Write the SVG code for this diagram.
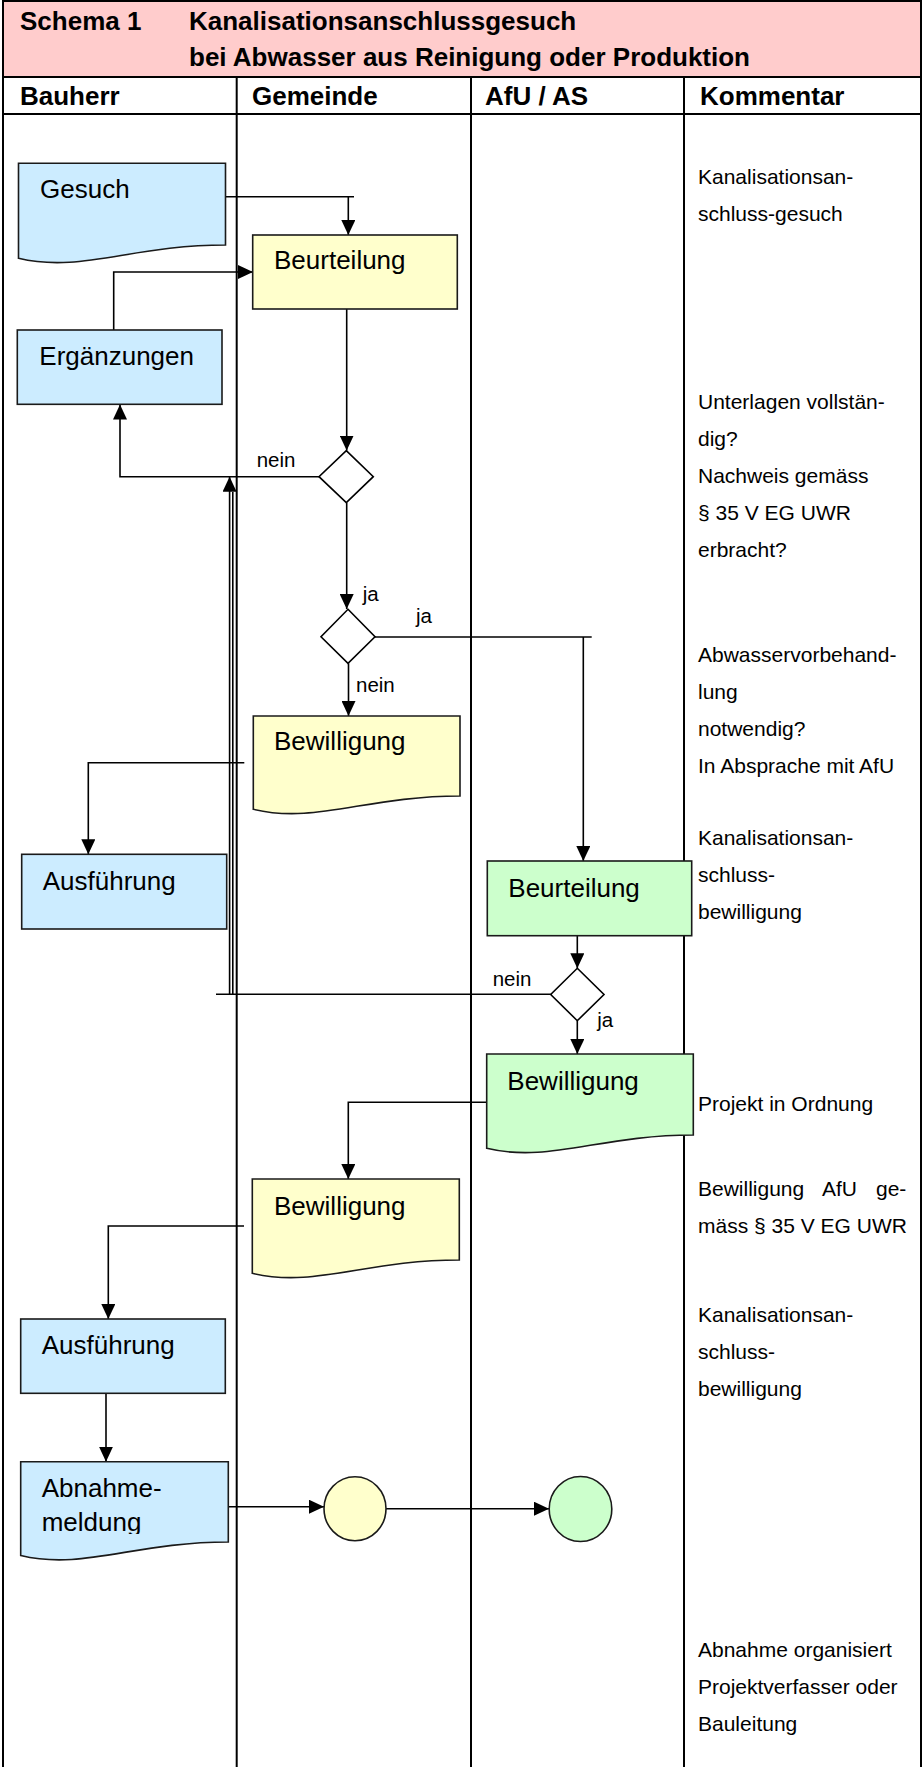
<svg xmlns="http://www.w3.org/2000/svg" width="922" height="1767" viewBox="0 0 922 1767">
<style>
text{font-family:"Liberation Sans",Arial,sans-serif;fill:#000}
.hd{font-size:26px;font-weight:bold}
.nt{font-size:26px}
.cm{font-size:21px}
.lb{font-size:20.5px}
.lane{stroke:#000;stroke-width:2;fill:none}
.blue{fill:#CCECFF;stroke:#1a1a1a;stroke-width:1.6}
.yel{fill:#FFFFCC;stroke:#1a1a1a;stroke-width:1.6}
.grn{fill:#CCFFCC;stroke:#1a1a1a;stroke-width:1.6}
.dia{fill:#fff;stroke:#000;stroke-width:1.6}
.cn{fill:none;stroke:#000;stroke-width:1.6}
</style>
<defs>
<marker id="ah" markerWidth="15" markerHeight="14" refX="15" refY="7" orient="auto" markerUnits="userSpaceOnUse"><path d="M0,0 L15,7 L0,14 z" fill="#000"/></marker>
<clipPath id="clipAbn"><rect x="0" y="1460" width="236" height="74"/></clipPath>
</defs>
<rect width="922" height="1767" fill="#fff"/>
<g id="header">
<rect x="3" y="1" width="918" height="76" fill="#FFCCCC" stroke="#000" stroke-width="2"/>
<rect x="3" y="77" width="918" height="37" fill="#fff" stroke="#000" stroke-width="2"/>
<text class="hd" x="20" y="30">Schema 1</text>
<text class="hd" x="189" y="30">Kanalisationsanschlussgesuch</text>
<text class="hd" x="189" y="66">bei Abwasser aus Reinigung oder Produktion</text>
<text class="hd" x="20" y="105">Bauherr</text>
<text class="hd" x="252" y="105">Gemeinde</text>
<text class="hd" x="485" y="105">AfU / AS</text>
<text class="hd" x="700" y="105">Kommentar</text>
</g>
<g id="lanes">
<line class="lane" x1="3" y1="77" x2="3" y2="1767"/>
<line class="lane" x1="236.7" y1="77" x2="236.7" y2="1767"/>
<line class="lane" x1="471" y1="77" x2="471" y2="1767"/>
<line class="lane" x1="684" y1="77" x2="684" y2="1767"/>
<line class="lane" x1="921" y1="77" x2="921" y2="1767"/>
</g>
<g id="connectors">
<path class="cn" d="M225.5,196.7 H354"/>
<path class="cn" d="M348.3,196.7 V235" marker-end="url(#ah)"/>
<path class="cn" d="M113.7,330 V272 H253" marker-end="url(#ah)"/>
<path class="cn" d="M346.7,309 V450.5" marker-end="url(#ah)"/>
<path class="cn" d="M319,476.7 H120 V404.5" marker-end="url(#ah)"/>
<path class="cn" d="M346.7,502.7 V609" marker-end="url(#ah)"/>
<path class="cn" d="M375,637 H591.7"/>
<path class="cn" d="M583.3,637 V861" marker-end="url(#ah)"/>
<path class="cn" d="M348.5,663.3 V716" marker-end="url(#ah)"/>
<path class="cn" d="M244.3,762.7 H88.3 V854.3" marker-end="url(#ah)"/>
<path class="cn" d="M577.3,935.7 V968.3" marker-end="url(#ah)"/>
<path class="cn" d="M550.7,994.3 H216"/>
<path class="cn" d="M232.8,994.3 V492"/>
<path class="cn" d="M229.6,994.3 V476.7" marker-end="url(#ah)"/>
<path class="cn" d="M577.3,1020.7 V1054" marker-end="url(#ah)"/>
<path class="cn" d="M486.7,1102.3 H348.3 V1179" marker-end="url(#ah)"/>
<path class="cn" d="M244,1226 H108.3 V1319" marker-end="url(#ah)"/>
<path class="cn" d="M106,1393.3 V1461.7" marker-end="url(#ah)"/>
<path class="cn" d="M228.3,1506.7 H324" stroke-width="2.4" marker-end="url(#ah)"/>
<path class="cn" d="M386,1508.7 H549" marker-end="url(#ah)"/>
<text class="lb" x="256.7" y="466.7">nein</text>
<text class="lb" x="362.7" y="601">ja</text>
<text class="lb" x="416" y="623.3">ja</text>
<text class="lb" x="356" y="691.7">nein</text>
<text class="lb" x="492.7" y="986">nein</text>
<text class="lb" x="597.3" y="1026.7">ja</text>
</g>
<g id="n-gesuch">
<path class="blue" d="M18.5,163.3 H225.5 V245 C132.4,245 80.6,273.3 18.5,258.3 Z"/>
<text class="nt" x="40" y="198">Gesuch</text>
</g>
<g id="n-beurteilung-gemeinde">
<rect class="yel" x="252.7" y="235" width="204.6" height="74"/>
<text class="nt" x="274" y="269.3">Beurteilung</text>
</g>
<g id="n-ergaenzungen">
<rect class="blue" x="17.3" y="330" width="204.7" height="74.3"/>
<text class="nt" x="39.3" y="365">Ergänzungen</text>
</g>
<g id="n-dec1">
<path class="dia" d="M346.3,450.7 L373.3,476.7 L346.3,502.7 L319,476.7 Z"/>
</g>
<g id="n-dec2">
<path class="dia" d="M348,609.3 L375,636.7 L348,663.3 L321,636.7 Z"/>
</g>
<g id="n-bewilligung-gemeinde1">
<path class="yel" d="M253.3,716 H460 V796 C366.3,796 315.3,824.3 253.3,809.3 Z"/>
<text class="nt" x="274" y="750">Bewilligung</text>
</g>
<g id="n-ausfuehrung1">
<rect class="blue" x="21.7" y="854.3" width="205" height="74.7"/>
<text class="nt" x="42.7" y="890">Ausführung</text>
</g>
<g id="n-beurteilung-afu">
<rect class="grn" x="487.3" y="861" width="204.4" height="74.7"/>
<text class="nt" x="508.3" y="896.7">Beurteilung</text>
</g>
<g id="n-dec3">
<path class="dia" d="M577.3,968.3 L604,994.5 L577.3,1020.7 L550.7,994.5 Z"/>
</g>
<g id="n-bewilligung-afu">
<path class="grn" d="M486.7,1054 H693.3 V1135 C600,1135 548.7,1163.3 486.7,1148.3 Z"/>
<text class="nt" x="507.3" y="1090">Bewilligung</text>
</g>
<g id="n-bewilligung-gemeinde2">
<path class="yel" d="M252.3,1179 H459.3 V1260 C366,1260 314.4,1288.3 252.3,1273.3 Z"/>
<text class="nt" x="274" y="1215">Bewilligung</text>
</g>
<g id="n-ausfuehrung2">
<rect class="blue" x="20.7" y="1319" width="204.6" height="74.3"/>
<text class="nt" x="41.7" y="1354">Ausführung</text>
</g>
<g id="n-abnahmemeldung">
<path class="blue" d="M20.7,1461.7 H228.3 V1542 C134.5,1542 83,1570.5 20.7,1555.5 Z"/>
<text class="nt" x="41.7" y="1497">Abnahme-</text>
<text class="nt" x="41.7" y="1530.5" clip-path="url(#clipAbn)">meldung</text>
</g>
<g id="n-end-gemeinde">
<ellipse cx="355" cy="1508.7" rx="31" ry="32" fill="#FFFFCC" stroke="#1a1a1a" stroke-width="1.6"/>
</g>
<g id="n-end-afu">
<ellipse cx="580.5" cy="1509" rx="31.3" ry="32.5" fill="#CCFFCC" stroke="#1a1a1a" stroke-width="1.6"/>
</g>
<g id="comments">
<text class="cm" x="698" y="184">Kanalisationsan-</text>
<text class="cm" x="698" y="221">schluss-gesuch</text>
<text class="cm" x="698" y="409">Unterlagen vollstän-</text>
<text class="cm" x="698" y="446">dig?</text>
<text class="cm" x="698" y="483">Nachweis gemäss</text>
<text class="cm" x="698" y="520">§ 35 V EG UWR</text>
<text class="cm" x="698" y="557">erbracht?</text>
<text class="cm" x="698" y="662">Abwasservorbehand-</text>
<text class="cm" x="698" y="699">lung</text>
<text class="cm" x="698" y="736">notwendig?</text>
<text class="cm" x="698" y="773">In Absprache mit AfU</text>
<text class="cm" x="698" y="845">Kanalisationsan-</text>
<text class="cm" x="698" y="882">schluss-</text>
<text class="cm" x="698" y="919">bewilligung</text>
<text class="cm" x="698" y="1111">Projekt in Ordnung</text>
<text class="cm" x="698" y="1196">Bewilligung</text>
<text class="cm" x="822" y="1196">AfU</text>
<text class="cm" x="876" y="1196">ge-</text>
<text class="cm" x="698" y="1233">mäss § 35 V EG UWR</text>
<text class="cm" x="698" y="1322">Kanalisationsan-</text>
<text class="cm" x="698" y="1359">schluss-</text>
<text class="cm" x="698" y="1396">bewilligung</text>
<text class="cm" x="698" y="1657">Abnahme organisiert</text>
<text class="cm" x="698" y="1694">Projektverfasser oder</text>
<text class="cm" x="698" y="1731">Bauleitung</text>
</g>
</svg>
